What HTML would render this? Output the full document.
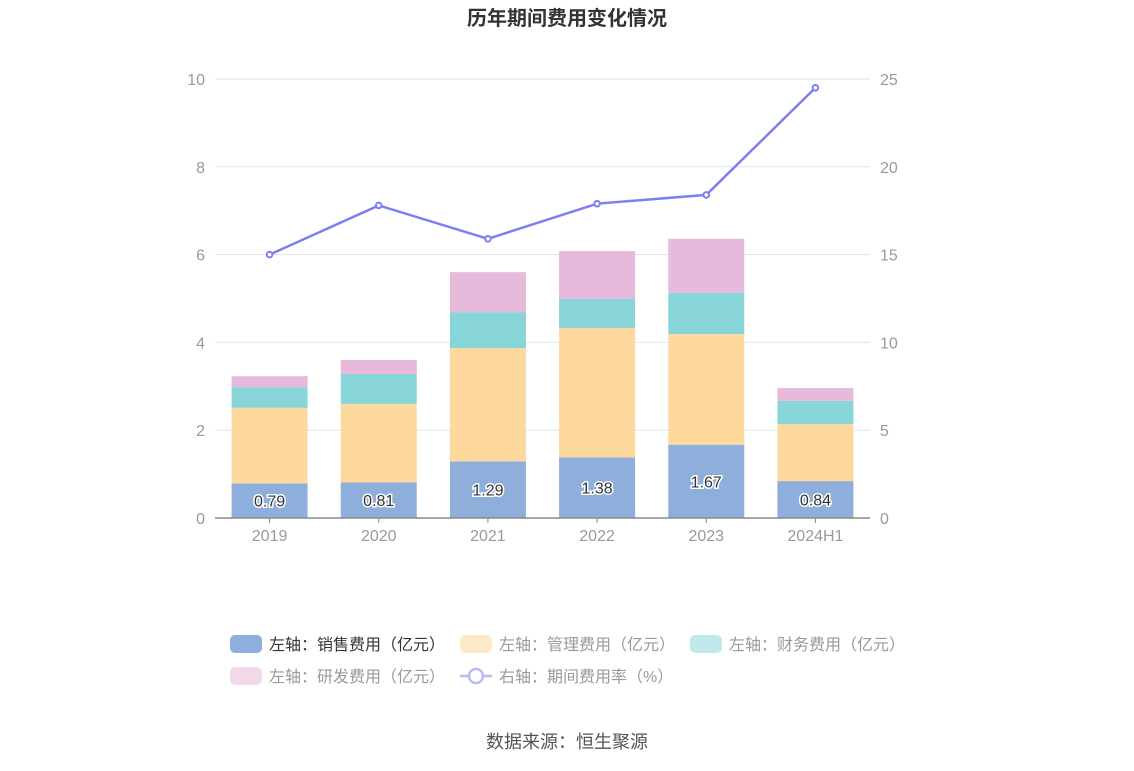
<!DOCTYPE html>
<html><head><meta charset="utf-8"><style>
body{margin:0;background:#fff;width:1134px;height:766px;overflow:hidden;font-family:"Liberation Sans","Noto Sans CJK SC",sans-serif}
</style></head><body>
<svg id="c" width="1134" height="766" xmlns="http://www.w3.org/2000/svg" style="font-family:'Liberation Sans','Noto Sans CJK SC',sans-serif">
<text x="567" y="25" text-anchor="middle" font-size="20" font-weight="bold" fill="#333">历年期间费用变化情况</text>
<g id="grid"></g><g id="bars"></g><g id="line"></g><g id="axes"></g>
<g id="legend"></g>
<text x="567" y="748" text-anchor="middle" font-size="18" fill="#555">数据来源：恒生聚源</text>
</svg>
<script>
const categories=["2019","2020","2021","2022","2023","2024H1"];
const sales=[0.79,0.81,1.29,1.38,1.67,0.84];
const admin=[1.72,1.79,2.58,2.95,2.52,1.30];
const finance=[0.47,0.68,0.82,0.66,0.94,0.53];
const rnd=[0.25,0.32,0.91,1.09,1.23,0.29];
const rate=[15.0,17.8,15.9,17.9,18.4,24.5];
const leftTicks=[0,2,4,6,8,10];
const rightTicks=[0,5,10,15,20,25];
const NS="http://www.w3.org/2000/svg";
const x0=215,x1=870,yB=518,yT=79,band=(x1-x0)/categories.length,bw=76;
const yL=v=>yB-(v/10)*(yB-yT);
const yR=v=>yB-(v/25)*(yB-yT);
const xc=i=>x0+band*(i+0.5);
function mk(t,a,p){const e=document.createElementNS(NS,t);for(const k in a)e.setAttribute(k,a[k]);p.appendChild(e);return e;}
const grid=document.getElementById('grid'),axes=document.getElementById('axes');
leftTicks.forEach((v,i)=>{
 if(v>0){const g=mk('line',{x1:x0,x2:x1,y1:yL(v),y2:yL(v),stroke:'#e0e3f0'},grid);
 
 }
 const t=mk('text',{x:205,y:yL(v)+6,'text-anchor':'end','font-size':16,fill:'#999'},axes);t.textContent=v;
 
 
 const r=mk('text',{x:880,y:yR(rightTicks[i])+6,'font-size':16,fill:'#999'},axes);r.textContent=rightTicks[i];
 
 
});
const ax=mk('line',{x1:x0,x2:x1,y1:yB,y2:yB,stroke:'#888','stroke-width':1.5},axes);


const bars=document.getElementById('bars');
const series=[[sales,'#8eaedc','sales'],[admin,'#fdd99d','admin'],[finance,'#87d5d9','finance'],[rnd,'#e7b9da','rnd']];
categories.forEach((c,i)=>{
 let acc=0;
 series.forEach(([arr,col,nm])=>{
  const r=mk('rect',{x:xc(i)-bw/2,y:yL(acc+arr[i]),width:bw,height:yL(acc)-yL(acc+arr[i]),fill:col},bars);
  
  
  acc+=arr[i];
 });
 const lb=mk('text',{x:xc(i),y:(yL(0)+yL(sales[i]))/2+6,'text-anchor':'middle','font-size':16,fill:'#333',stroke:'#fff','stroke-width':3,'paint-order':'stroke'},bars);
 lb.textContent=sales[i].toFixed(2);
 
 
 const t=mk('line',{x1:xc(i),x2:xc(i),y1:yB,y2:yB+5,stroke:'#888'},axes);
 const xl=mk('text',{x:xc(i),y:541,'text-anchor':'middle','font-size':16,fill:'#999'},axes);xl.textContent=c;
 
 
});
const lg=document.getElementById('line');
const pl=mk('polyline',{points:rate.map((v,i)=>xc(i)+','+yR(v)).join(' '),fill:'none',stroke:'#7b7ff0','stroke-width':2.5},lg);


rate.forEach((v,i)=>{const p=mk('circle',{cx:xc(i),cy:yR(v),r:2.8,fill:'#fff',stroke:'#7b7ff0','stroke-width':2},lg);
 
 });
const legend=document.getElementById('legend');
const items=[[230,644,'#8eaedc','左轴：销售费用（亿元）','#333'],[460,644,'#fde9c6','左轴：管理费用（亿元）','#999'],[690,644,'#bfe9eb','左轴：财务费用（亿元）','#999'],[230,676,'#f2d9ea','左轴：研发费用（亿元）','#999']];
items.forEach(([x,y,col,txt,tc])=>{
 const r=mk('rect',{x:x,y:y-9,width:32,height:18,rx:5,fill:col},legend);
 
 
 const t=mk('text',{x:x+39,y:y+6,'font-size':16,fill:tc},legend);t.textContent=txt;
 
 
});
mk('line',{x1:460,x2:492,y1:676,y2:676,stroke:'#b9bbf5','stroke-width':2.5},legend);
mk('circle',{cx:476,cy:676,r:7,fill:'#fff',stroke:'#b9bbf5','stroke-width':2.5},legend);
const lt=mk('text',{x:499,y:682,'font-size':16,fill:'#999'},legend);lt.textContent='右轴：期间费用率（%）';


</script>
</body></html>
